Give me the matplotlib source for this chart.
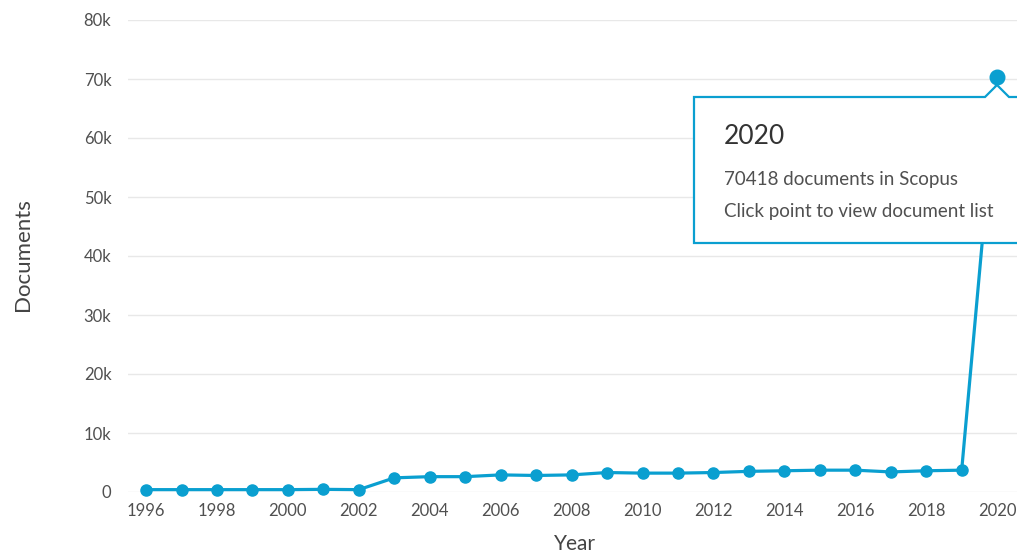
"""
Scopus documents per year, with the hover tooltip on the 2020 point
"""
import matplotlib
matplotlib.use("Agg")
import matplotlib.pyplot as plt
from matplotlib.patches import Polygon
from matplotlib.ticker import FuncFormatter

years = list(range(1996, 2021))
docs = [400, 400, 400, 400, 400, 450, 400, 2400, 2600, 2600, 2900, 2800, 2900,
        3300, 3200, 3200, 3300, 3500, 3600, 3700, 3700, 3400, 3600, 3700, 70418]
x_ticks = list(range(1996, 2021, 2))
y_ticks = list(range(0, 80001, 10000))

W, H = 1017, 557
LINE = "#0a9fd0"
TEXT = "#505050"

plt.rcParams["font.family"] = ["Lato", "DejaVu Sans"]

fig = plt.figure(figsize=(W / 100, H / 100), dpi=100)
ax = fig.add_axes([128 / W, (H - 492) / H, (W - 128) / W, 472 / H])


def fx(px):
    return px / W


def fy(py):
    return 1 - py / H


ax.plot(years, docs, color=LINE, lw=2.3, marker="o", markersize=8,
        clip_on=False, zorder=3)
# hovered point is drawn bigger, on top of the tooltip
ax.plot(years[-1], docs[-1], "o", color=LINE, markersize=10.5, clip_on=False, zorder=8)

ax.set_xlim(1995.49, 2020.56)
ax.set_ylim(0, 80000)
ax.set_xticks(x_ticks)
ax.set_yticks(y_ticks)
ax.yaxis.set_major_formatter(FuncFormatter(lambda v, p: "0" if v == 0 else f"{int(v / 1000)}k"))
ax.tick_params(length=0, labelsize=12, labelcolor=TEXT)
ax.tick_params(axis="x", pad=8)
ax.tick_params(axis="y", pad=12)
ax.grid(axis="y", color="#e8e8e8", lw=1)
ax.set_axisbelow(True)
for s in ax.spines.values():
    s.set_visible(False)

ax.set_ylabel("Documents", fontsize=16, color="#444444")
ax.yaxis.set_label_coords(-0.107, 0.502)
ax.set_xlabel("Year", fontsize=15, color="#444444")
ax.xaxis.set_label_coords(0.503, -0.09)

# tooltip box (runs off the right edge)
top, bottom, left, right = 97, 243, 694, W + 20
pts = [(left, top), (985, top), (997, 85), (1009, top), (right, top),
       (right, bottom), (left, bottom)]
box = Polygon([(fx(a), fy(b)) for a, b in pts], closed=True, transform=fig.transFigure,
              facecolor="white", edgecolor=LINE, lw=1.6, clip_on=False, zorder=6)
ax.add_patch(box)
ax.text(fx(724), fy(137), "2020", transform=fig.transFigure, fontsize=19,
        color="#333333", va="center", ha="left", zorder=7)
ax.text(fx(724), fy(180), "70418 documents in Scopus", transform=fig.transFigure,
        fontsize=13.5, color=TEXT, va="center", ha="left", zorder=7)
ax.text(fx(724), fy(211), "Click point to view document list", transform=fig.transFigure,
        fontsize=13.5, color=TEXT, va="center", ha="left", zorder=7)

fig.savefig("out.png", dpi=100)
